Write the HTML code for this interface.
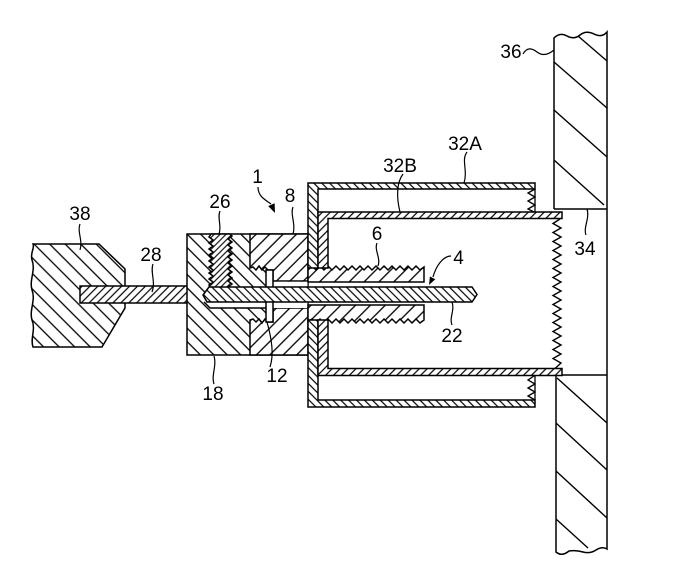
<!DOCTYPE html>
<html><head><meta charset="utf-8">
<style>
html,body{margin:0;padding:0;background:#fff;}
svg{display:block;}
text{font-family:"Liberation Sans",Arial,sans-serif;font-size:19px;fill:#000;}
</style></head>
<body>
<svg width="688" height="569" viewBox="0 0 688 569" xmlns="http://www.w3.org/2000/svg">
<defs>
 <pattern id="pB11" width="11" height="11" patternUnits="userSpaceOnUse" patternTransform="rotate(-45)"><rect width="11" height="11" fill="#fff"/><line x1="5.5" y1="0" x2="5.5" y2="11" stroke="#000" stroke-width="1.3"/></pattern>
 <pattern id="pB10" width="9.5" height="9.5" patternUnits="userSpaceOnUse" patternTransform="rotate(-45)"><rect width="9.5" height="9.5" fill="#fff"/><line x1="4.75" y1="0" x2="4.75" y2="9.5" stroke="#000" stroke-width="1.3"/></pattern>
 <pattern id="pF10" width="9.5" height="9.5" patternUnits="userSpaceOnUse" patternTransform="rotate(45)"><rect width="9.5" height="9.5" fill="#fff"/><line x1="4.75" y1="0" x2="4.75" y2="9.5" stroke="#000" stroke-width="1.3"/></pattern>
 <pattern id="pF11" width="10.5" height="10.5" patternUnits="userSpaceOnUse" patternTransform="rotate(45)"><rect width="10.5" height="10.5" fill="#fff"/><line x1="5.25" y1="0" x2="5.25" y2="10.5" stroke="#000" stroke-width="1.3"/></pattern>
 <pattern id="pB6" width="5.6" height="5.6" patternUnits="userSpaceOnUse" patternTransform="rotate(-45)"><rect width="5.6" height="5.6" fill="#fff"/><line x1="2.8" y1="0" x2="2.8" y2="5.6" stroke="#000" stroke-width="1.2"/></pattern>
 <pattern id="pF6" width="5.6" height="5.6" patternUnits="userSpaceOnUse" patternTransform="rotate(45)"><rect width="5.6" height="5.6" fill="#fff"/><line x1="2.8" y1="0" x2="2.8" y2="5.6" stroke="#000" stroke-width="1.2"/></pattern>
 <pattern id="pF4" width="4.2" height="4.2" patternUnits="userSpaceOnUse" patternTransform="rotate(45)"><rect width="4.2" height="4.2" fill="#fff"/><line x1="2.1" y1="0" x2="2.1" y2="4.2" stroke="#000" stroke-width="1.1"/></pattern>
</defs>
<rect width="688" height="569" fill="#fff"/>

<g stroke="#000" stroke-width="1.5" fill="none" stroke-linejoin="miter">
 <!-- Wall 36 -->
 <path d="M554,209 V38 Q560,32 567,36 T580,35 T594,34 T607,32 V549 Q602,546 596,550 T583,552 T569,551 Q562,557 556,552 V375 H607 M554,209 H607"/>
 <g stroke-width="1.4">
  <line x1="578" y1="36" x2="607" y2="61"/>
  <line x1="554" y1="62" x2="607" y2="108"/>
  <line x1="554" y1="110" x2="607" y2="157"/>
  <line x1="554" y1="160" x2="604" y2="205"/>
  <line x1="557" y1="378" x2="607" y2="423"/>
  <line x1="556" y1="423" x2="607" y2="470"/>
  <line x1="556" y1="471" x2="607" y2="518"/>
  <line x1="556" y1="519" x2="588" y2="548"/>
 </g>

 <!-- Block 38 -->
 <path fill="url(#pB11)" d="M33,244 H99 L125,269 V308 L102,347 H33 C30,338 36,330 32,320 C29,310 36,300 32,290 C29,280 36,270 32,260 C30,252 35,248 33,244 Z"/>
 <!-- Pin 28 -->
 <rect x="80" y="286" width="108" height="17" fill="url(#pF6)"/>

 <!-- Block 18 -->
 <rect x="187" y="234" width="121" height="121" fill="url(#pB10)"/>
 <!-- Part 8 top/bottom -->
 <path fill="url(#pF10)" d="M250,234 H308 V281 H273 V270 L268,270 L265,267 L262,270 L259,266 L256,270 L253,267 L250,268 Z"/>
 <path fill="url(#pF10)" d="M250,355 H308 V308 H273 V322 L268,322 L265,319 L262,323 L259,319 L256,322 L253,319 L250,320 Z"/>
 <!-- Insert 26 -->
 <path fill="url(#pF4)" d="M211,234 L209,237 L213,240 L209,243 L213,246 L209,249 L213,252 L209,255 L213,258 L209,261 L213,264 L209,267 L213,270 L209,273 L213,276 L209,279 L213,282 L209,285 L211,290 L232,290 L228,287 L232,284 L228,281 L232,278 L228,275 L232,272 L228,269 L232,266 L228,263 L232,260 L228,257 L232,254 L228,251 L232,248 L228,245 L232,242 L228,239 L232,236 L230,234 Z"/>
 <!-- bore gaps -->
 <rect x="273" y="281.8" width="34.5" height="5" fill="#fff" stroke="none"/>
 <path d="M204,302 L210,308 H307.3 V302 Z" fill="#fff" stroke="none"/>
 <path d="M204,302 L210,308 H273"/>
 <!-- Rib -->
 <rect x="266" y="270" width="7" height="52" fill="#fff"/>

 <!-- Sleeve 6 -->
 <path fill="url(#pF11)" d="M308,282 V270 L312,266 L316,270 L320,266 L324,270 L328,266 L332,270 L336,266 L340,270 L344,266 L348,270 L352,266 L356,270 L360,266 L364,270 L368,266 L372,270 L376,266 L380,270 L384,266 L388,270 L392,266 L396,270 L400,266 L404,270 L408,266 L412,270 L416,266 L420,270 L424,267 V282 Z"/>
 <path fill="url(#pF11)" d="M308,305 H424 V320 L420,323 L416,319 L412,323 L408,319 L404,323 L400,319 L396,323 L392,319 L388,323 L384,319 L380,323 L376,319 L372,323 L368,319 L364,323 L360,319 L356,323 L352,319 L348,323 L344,319 L340,323 L336,319 L332,323 L328,319 L324,323 L320,319 L316,323 L312,319 L308,321 Z"/>

 <!-- 32A -->
 <path fill="url(#pB6)" d="M308,183 H535 V189 H318 V268 H308 Z"/>
 <path fill="url(#pB6)" d="M308,320 H318 V400 H535 V407 H308 Z"/>
 <!-- 32B -->
 <path fill="url(#pF6)" d="M318,212 H562 V218.5 H328 V268 H318 Z"/>
 <path fill="url(#pF6)" d="M318,320 H328 V368.5 H562 V375.5 H318 Z"/>
 <!-- end threads -->
 <path stroke-width="1.3" d="M535,189 V212 M535,189 L528,193 L535,197 L528,201 L535,205 L528,209 L534,212"/>
 <path stroke-width="1.3" d="M535,376 V400 M534,376 L528,380 L535,384 L528,388 L535,392 L528,396 L535,400"/>
 <polyline stroke-width="1.4" points="560,219 553,223.5 561,228 553,232.5 561,237 553,241.5 561,246 553,250.5 561,255 553,259.5 561,264 553,268.5 561,273 553,277.5 561,282 553,286.5 561,291 553,295.5 561,300 553,304.5 561,309 553,313.5 561,318 553,322.5 561,327 553,331.5 561,336 553,340.5 561,345 553,349.5 561,354 553,358.5 561,363 555,368.5"/>

 <!-- Pin 22 -->
 <path fill="url(#pB6)" d="M203,295 L209,287 H472 L477,294.5 L472,302 H207 Z"/>

 <!-- Leaders -->
 <g stroke-width="1.2">
  <path d="M523,54 C527,47 532,48 537,52 S548,55 554,50"/>
  <path d="M467,152 C461,160 468,170 464,183"/>
  <path d="M403,174 C397,182 396,196 400,212"/>
  <path d="M586,235 C583,228 590,218 587,209"/>
  <path d="M377,243 C374,250 381,258 378,266"/>
  <path d="M452,325 C449,318 455,310 452,302"/>
  <path d="M293,207 C290,214 296,224 293,234"/>
  <path d="M220,211 C217,218 222,226 219,234"/>
  <path d="M80,224 C77,232 83,240 80,250"/>
  <path d="M153,264 C150,272 156,282 152,292"/>
  <path d="M214,384 C211,375 217,366 214,356"/>
  <path d="M270,367 C274,355 272,340 267,322"/>
  <path d="M451,256 C443,256 436,266 433,277"/>
  <path d="M258,187 C258,197 266,200 271,204"/>
 </g>
</g>
<polygon points="429,285 435.3,279.2 429.9,276.5" fill="#000"/>
<polygon points="275,213 274.6,203.3 268.2,206.1" fill="#000"/>

<!-- Labels -->
<text x="511" y="58" text-anchor="middle">36</text>
<text x="465" y="150" text-anchor="middle">32A</text>
<text x="400" y="172" text-anchor="middle">32B</text>
<text x="257.5" y="183" text-anchor="middle">1</text>
<text x="290" y="202" text-anchor="middle">8</text>
<text x="220" y="208" text-anchor="middle">26</text>
<text x="80" y="220" text-anchor="middle">38</text>
<text x="151" y="261" text-anchor="middle">28</text>
<text x="377" y="240" text-anchor="middle">6</text>
<text x="458.5" y="264" text-anchor="middle">4</text>
<text x="585" y="255" text-anchor="middle">34</text>
<text x="452" y="342" text-anchor="middle">22</text>
<text x="213" y="400" text-anchor="middle">18</text>
<text x="277" y="382" text-anchor="middle">12</text>
</svg>
</body></html>
